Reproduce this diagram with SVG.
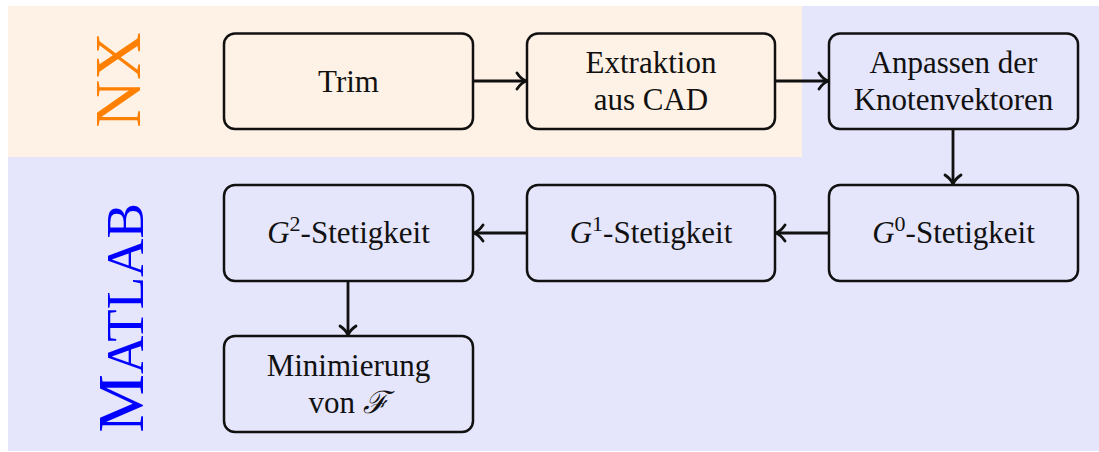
<svg xmlns="http://www.w3.org/2000/svg" width="1099" height="452" viewBox="0 0 1099 452">
<style>
.box{fill:none;stroke:#111;stroke-width:2.5}
.t{font-family:"Liberation Serif","Times New Roman",serif;font-size:31px;fill:#111;text-anchor:middle}
.it{font-style:italic}
.sup{font-size:22px}
.conn{stroke:#111;stroke-width:2.8;fill:none}
</style>
<defs>
<marker id="ah" markerUnits="userSpaceOnUse" viewBox="-12 -10 14 20" refX="0" refY="0" markerWidth="14" markerHeight="20" orient="auto">
<path d="M-9,-8 C-6,-3.5 -2.5,-1 0,0 C-2.5,1 -6,3.5 -9,8" fill="none" stroke="#111" stroke-width="2.8" stroke-linecap="round"/>
</marker>
</defs>
<rect x="8" y="6" width="1091" height="445" fill="#e5e5fb"/>
<rect x="8" y="6" width="794" height="151" fill="#fef1e5"/>
<text transform="translate(140,80) rotate(-90)" text-anchor="middle" font-family="Liberation Serif,serif" font-size="66" fill="#ff8000">NX</text>
<text transform="translate(143,318) rotate(-90)" text-anchor="middle" font-family="Liberation Serif,serif" font-size="66" fill="#0000ff">M<tspan font-size="53">ATLAB</tspan></text>
<g id="connectors">
<line class="conn" x1="473" y1="81" x2="526" y2="81" marker-end="url(#ah)"/>
<line class="conn" x1="775" y1="81" x2="828" y2="81" marker-end="url(#ah)"/>
<line class="conn" x1="953" y1="129" x2="953" y2="184" marker-end="url(#ah)"/>
<line class="conn" x1="829" y1="233" x2="776" y2="233" marker-end="url(#ah)"/>
<line class="conn" x1="527" y1="233" x2="474" y2="233" marker-end="url(#ah)"/>
<line class="conn" x1="348" y1="281" x2="348" y2="335" marker-end="url(#ah)"/>
</g>
<g id="trim"><rect class="box" x="224" y="33.5" width="249" height="95.5" rx="11"/><text class="t" x="348.5" y="92">Trim</text></g>
<g id="extraktion"><rect class="box" x="527" y="33.5" width="248" height="95.5" rx="11"/><text class="t" x="651" y="73">Extraktion</text><text class="t" x="651" y="110">aus CAD</text></g>
<g id="anpassen"><rect class="box" x="829" y="33.5" width="249" height="95.5" rx="11"/><text class="t" x="953.5" y="73">Anpassen der</text><text class="t" x="953.5" y="110">Knotenvektoren</text></g>
<g id="g0"><rect class="box" x="829" y="185" width="249" height="96" rx="11"/><text class="t" x="953.5" y="243"><tspan class="it">G</tspan><tspan class="sup" dy="-12">0</tspan><tspan dy="12">-Stetigkeit</tspan></text></g>
<g id="g1"><rect class="box" x="527" y="185" width="248" height="96" rx="11"/><text class="t" x="651" y="243"><tspan class="it">G</tspan><tspan class="sup" dy="-12">1</tspan><tspan dy="12">-Stetigkeit</tspan></text></g>
<g id="g2"><rect class="box" x="224" y="185" width="249" height="96" rx="11"/><text class="t" x="348.5" y="243"><tspan class="it">G</tspan><tspan class="sup" dy="-12">2</tspan><tspan dy="12">-Stetigkeit</tspan></text></g>
<g id="minimierung"><rect class="box" x="224" y="336" width="249" height="96" rx="11"/><text class="t" x="348.5" y="376">Minimierung</text><text class="t" x="348.5" y="413">von <tspan class="it">ℱ</tspan></text></g>
</svg>
